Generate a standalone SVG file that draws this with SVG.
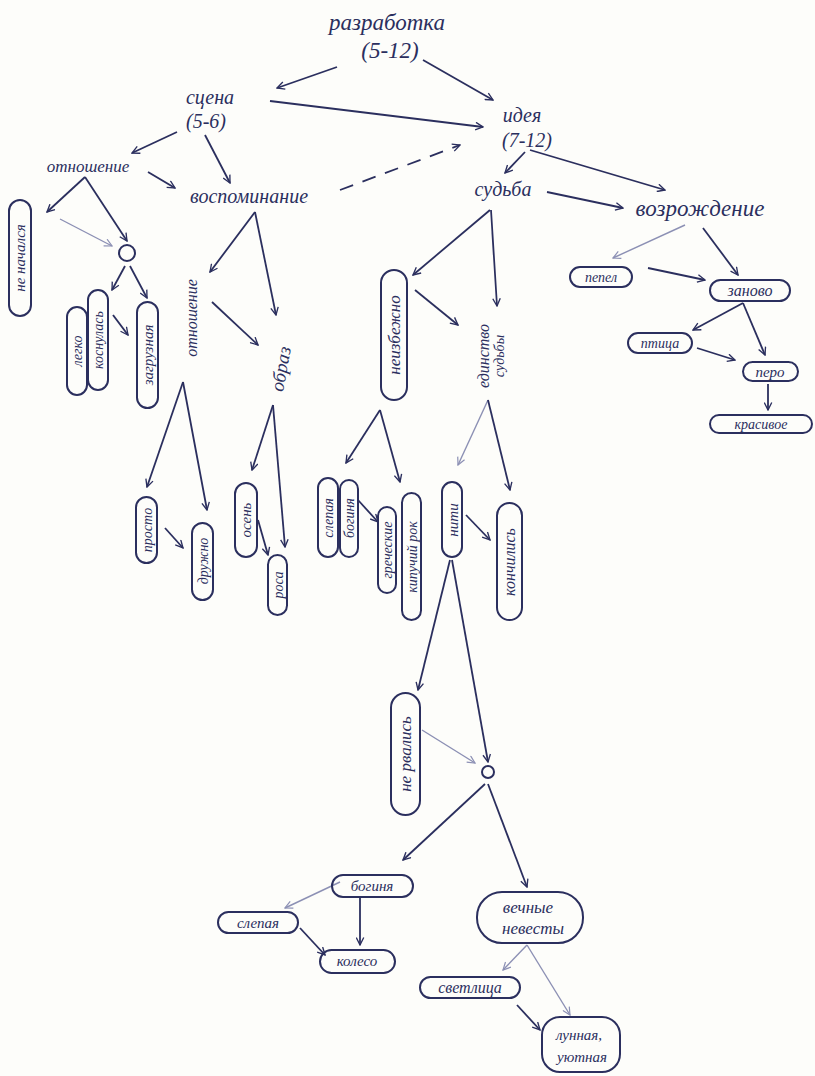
<svg xmlns="http://www.w3.org/2000/svg" width="815" height="1076" viewBox="0 0 815 1076">
<style>
.bg{fill:#fdfdfa}
.t{font-family:"Liberation Serif",serif;font-style:italic;fill:#2b2f5e}
.big{font-size:23px}
.mid{font-size:20px}
.sm{font-size:14px}
.ov{fill:none;stroke:#2b2f5e;stroke-width:2}
.c{fill:none;stroke:#2b2f5e;stroke-width:1.8;marker-end:url(#ah)}
.l{fill:none;stroke:#8c90b4;stroke-width:1.4;marker-end:url(#al)}
.d{fill:none;stroke:#2b2f5e;stroke-width:1.8;stroke-dasharray:14 10;marker-end:url(#ah)}
</style>
<defs>
<marker id="ah" viewBox="0 0 12 12" refX="11" refY="6" markerWidth="9" markerHeight="9" markerUnits="userSpaceOnUse" orient="auto"><path d="M1,1 L11,6 L1,11" fill="none" stroke="#2b2f5e" stroke-width="1.8"/></marker>
<marker id="al" viewBox="0 0 12 12" refX="11" refY="6" markerWidth="9" markerHeight="9" markerUnits="userSpaceOnUse" orient="auto"><path d="M1,1 L11,6 L1,11" fill="none" stroke="#8c90b4" stroke-width="1.6"/></marker>
</defs>
<rect class="bg" width="815" height="1076"/>
<g id="connectors">
<path class="c" d="M337,67 L277,88"/>
<path class="c" d="M423,60 L493,100"/>
<path class="c" d="M270,101 L483,127"/>
<path class="c" d="M177,132 L132,153"/>
<path class="c" d="M205,135 L230,183"/>
<path class="c" d="M148,172 L175,188"/>
<path class="d" d="M340,190 L460,145"/>
<path class="c" d="M525,152 L505,173"/>
<path class="c" d="M530,150 L665,190"/>
<path class="c" d="M547,192 L623,208"/>
<path class="l" d="M685,225 L613,258"/>
<path class="c" d="M703,228 L738,275"/>
<path class="c" d="M648,268 L705,280"/>
<path class="c" d="M743,303 L693,330"/>
<path class="c" d="M743,303 L765,355"/>
<path class="c" d="M697,348 L735,360"/>
<path class="c" d="M768,384 L768,410"/>
<path class="c" d="M85,177 L47,212"/>
<path class="c" d="M85,177 L127,241"/>
<path class="l" d="M60,219 L112,246"/>
<path class="c" d="M125,266 L112,290"/>
<path class="c" d="M130,266 L147,298"/>
<path class="c" d="M113,315 L128,335"/>
<path class="c" d="M255,212 L210,272"/>
<path class="c" d="M255,212 L276,315"/>
<path class="c" d="M212,302 L258,345"/>
<path class="c" d="M183,382 L147,487"/>
<path class="c" d="M183,382 L207,510"/>
<path class="c" d="M165,528 L183,548"/>
<path class="c" d="M273,405 L252,470"/>
<path class="c" d="M273,405 L285,547"/>
<path class="c" d="M258,520 L268,555"/>
<path class="c" d="M490,210 L413,275"/>
<path class="c" d="M491,210 L497,306"/>
<path class="c" d="M415,290 L458,325"/>
<path class="c" d="M380,410 L346,463"/>
<path class="c" d="M380,410 L400,482"/>
<path class="c" d="M358,500 L378,522"/>
<path class="l" d="M488,400 L458,465"/>
<path class="c" d="M488,400 L510,490"/>
<path class="c" d="M466,515 L490,540"/>
<path class="c" d="M450,560 L418,690"/>
<path class="c" d="M452,560 L488,762"/>
<path class="l" d="M422,730 L475,763"/>
<path class="c" d="M485,784 L403,860"/>
<path class="c" d="M488,784 L527,887"/>
<path class="l" d="M340,882 L285,908"/>
<path class="c" d="M300,928 L325,955"/>
<path class="c" d="M360,898 L360,945"/>
<path class="l" d="M527,945 L503,970"/>
<path class="l" d="M527,945 L570,1015"/>
<path class="c" d="M517,1005 L540,1030"/>
</g>
<g id="n-razrabotka"><text class="t big" x="387" y="30" text-anchor="middle">разработка</text><text class="t big" x="390" y="58" text-anchor="middle">(5-12)</text></g>
<g id="n-scena"><text class="t mid" x="210" y="104" text-anchor="middle">сцена</text><text class="t mid" x="206" y="128" text-anchor="middle">(5-6)</text></g>
<g id="n-ideya"><text class="t mid" x="522" y="122" text-anchor="middle">идея</text><text class="t mid" x="527" y="147" text-anchor="middle">(7-12)</text></g>
<g id="n-otnoshenie"><text class="t" x="88" y="172" text-anchor="middle" style="font-size:17px">отношение</text></g>
<g id="n-vospominanie"><text class="t" x="249" y="203" text-anchor="middle" style="font-size:20px">воспоминание</text></g>
<g id="n-sudba"><text class="t mid" x="503" y="196" text-anchor="middle">судьба</text></g>
<g id="n-vozrozhdenie"><text class="t big" x="700" y="216" text-anchor="middle">возрождение</text></g>
<g id="n-pepel"><rect class="ov" x="570" y="267" width="62" height="20" rx="10"/><text class="t sm" x="601" y="282" text-anchor="middle">пепел</text></g>
<g id="n-zanovo"><rect class="ov" x="710" y="280" width="80" height="21" rx="10.5"/><text class="t" x="750" y="296" text-anchor="middle" style="font-size:16px">заново</text></g>
<g id="n-ptica"><rect class="ov" x="628" y="333" width="64" height="20" rx="10"/><text class="t sm" x="660" y="348" text-anchor="middle">птица</text></g>
<g id="n-pero"><rect class="ov" x="743" y="362" width="55" height="19" rx="9.5"/><text class="t" x="770" y="377" text-anchor="middle" style="font-size:15px">перо</text></g>
<g id="n-krasivoe"><rect class="ov" x="710" y="415" width="102" height="18" rx="9"/><text class="t sm" x="761" y="429" text-anchor="middle">красивое</text></g>
<g id="n-ne-nachalsya"><rect class="ov" x="9" y="200" width="22" height="116" rx="11"/><text class="t" transform="translate(25,258) rotate(-90)" text-anchor="middle" style="font-size:15px">не начался</text></g>
<g id="n-circle1"><circle class="ov" cx="127" cy="253" r="8"/></g>
<g id="n-legko"><rect class="ov" x="67" y="307" width="20" height="88" rx="10"/><text class="t sm" transform="translate(82,351) rotate(-90)" text-anchor="middle">легко</text></g>
<g id="n-kosnulas"><rect class="ov" x="88" y="290" width="20" height="100" rx="10"/><text class="t sm" transform="translate(103,340) rotate(-90)" text-anchor="middle">коснулась</text></g>
<g id="n-zagruznaya"><rect class="ov" x="137" y="302" width="21" height="106" rx="10.5"/><text class="t" transform="translate(153,355) rotate(-90)" text-anchor="middle" style="font-size:15px">загрузная</text></g>
<g id="n-otnoshenie2"><text class="t" transform="translate(197,318) rotate(-90)" text-anchor="middle" style="font-size:16px">отношение</text></g>
<g id="n-obraz"><text class="t" transform="translate(287,370) rotate(-80)" text-anchor="middle" style="font-size:19px">образ</text></g>
<g id="n-prosto"><rect class="ov" x="136" y="497" width="21" height="66" rx="10.5"/><text class="t sm" transform="translate(152,530) rotate(-90)" text-anchor="middle">просто</text></g>
<g id="n-druzhno"><rect class="ov" x="192" y="523" width="21" height="77" rx="10.5"/><text class="t sm" transform="translate(208,561) rotate(-90)" text-anchor="middle">дружно</text></g>
<g id="n-osen"><rect class="ov" x="235" y="483" width="22" height="74" rx="11"/><text class="t" transform="translate(251,520) rotate(-90)" text-anchor="middle" style="font-size:15px">осень</text></g>
<g id="n-rosa"><rect class="ov" x="268" y="555" width="19" height="60" rx="9.5"/><text class="t sm" transform="translate(283,585) rotate(-90)" text-anchor="middle">роса</text></g>
<g id="n-neizbezhno"><rect class="ov" x="381" y="270" width="26" height="130" rx="13"/><text class="t" transform="translate(400,335) rotate(-90)" text-anchor="middle" style="font-size:17px">неизбежно</text></g>
<g id="n-edinstvo"><text class="t" transform="translate(489,356) rotate(-90)" text-anchor="middle" style="font-size:16px">единство</text><text class="t sm" transform="translate(504,356) rotate(-90)" text-anchor="middle">судьбы</text></g>
<g id="n-slepaya1"><rect class="ov" x="318" y="478" width="20" height="79" rx="10"/><text class="t sm" transform="translate(333,518) rotate(-90)" text-anchor="middle">слепая</text></g>
<g id="n-boginya1"><rect class="ov" x="340" y="480" width="18" height="77" rx="9"/><text class="t sm" transform="translate(354,518) rotate(-90)" text-anchor="middle">богиня</text></g>
<g id="n-grecheskie"><rect class="ov" x="378" y="507" width="18" height="86" rx="9"/><text class="t sm" transform="translate(392,550) rotate(-90)" text-anchor="middle">греческие</text></g>
<g id="n-rok"><rect class="ov" x="402" y="493" width="19" height="127" rx="9.5"/><text class="t sm" transform="translate(417,557) rotate(-90)" text-anchor="middle">кипучий рок</text></g>
<g id="n-niti"><rect class="ov" x="442" y="482" width="20" height="75" rx="10"/><text class="t" transform="translate(458,520) rotate(-90)" text-anchor="middle" style="font-size:15px">нити</text></g>
<g id="n-konchilis"><rect class="ov" x="497" y="503" width="25" height="117" rx="12.5"/><text class="t" transform="translate(515,562) rotate(-90)" text-anchor="middle" style="font-size:16px">кончились</text></g>
<g id="n-ne-rvalis"><rect class="ov" x="391" y="693" width="29" height="122" rx="14.5"/><text class="t" transform="translate(411,754) rotate(-90)" text-anchor="middle" style="font-size:17px">не рвались</text></g>
<g id="n-circle2"><circle class="ov" cx="488" cy="772" r="6"/></g>
<g id="n-boginya2"><rect class="ov" x="332" y="875" width="81" height="22" rx="11"/><text class="t" x="372" y="891" text-anchor="middle" style="font-size:15px">богиня</text></g>
<g id="n-slepaya2"><rect class="ov" x="218" y="912" width="80" height="21" rx="10.5"/><text class="t" x="258" y="928" text-anchor="middle" style="font-size:15px">слепая</text></g>
<g id="n-koleso"><rect class="ov" x="320" y="950" width="75" height="23" rx="11.5"/><text class="t" x="357" y="966" text-anchor="middle" style="font-size:15px">колесо</text></g>
<g id="n-vechnye"><rect class="ov" x="477" y="892" width="106" height="51" rx="25"/><text class="t" x="528" y="913" text-anchor="middle" style="font-size:17px">вечные</text><text class="t" x="533" y="934" text-anchor="middle" style="font-size:17px">невесты</text></g>
<g id="n-svetlica"><rect class="ov" x="420" y="977" width="100" height="21" rx="10.5"/><text class="t" x="470" y="993" text-anchor="middle" style="font-size:16px">светлица</text></g>
<g id="n-lunnaya"><rect class="ov" x="542" y="1017" width="78" height="55" rx="18"/><text class="t" x="579" y="1040" text-anchor="middle" style="font-size:15px">лунная,</text><text class="t" x="582" y="1062" text-anchor="middle" style="font-size:15px">уютная</text></g>
</svg>
